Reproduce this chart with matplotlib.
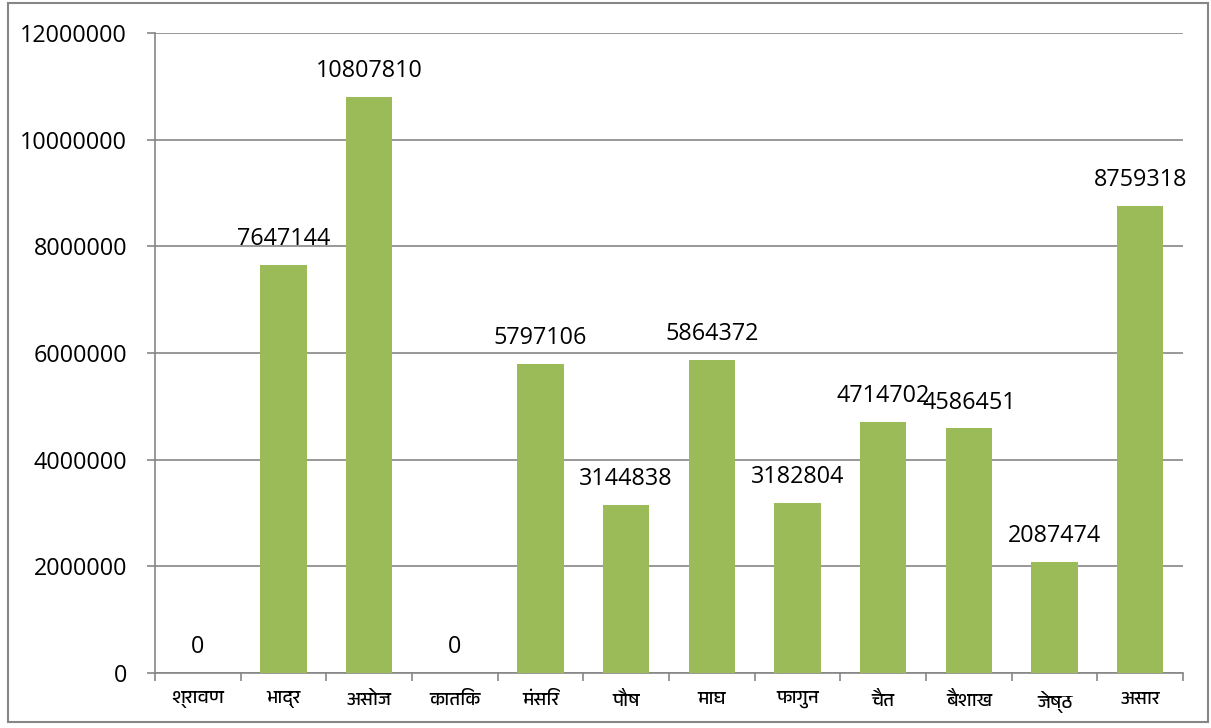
import matplotlib
matplotlib.use('Agg')
from matplotlib import pyplot as plt
from matplotlib import font_manager
from matplotlib.patches import Rectangle

months = ['श्रावण', 'भाद्र', 'असोज', 'कातिक', 'मंसिर', 'पौष',
          'माघ', 'फागुन', 'चैत', 'बैशाख', 'जेष्ठ', 'असार']
values = [0, 7647144, 10807810, 0, 5797106, 3144838,
          5864372, 3182804, 4714702, 4586451, 2087474, 8759318]

# find a font that can draw devanagari
deva_font = None
for f in font_manager.fontManager.ttflist:
    if 'Devanagari' in f.name or 'Mangal' in f.name or 'Lohit' in f.name:
        deva_font = f.name
        break

fig = plt.figure(figsize=(12.11, 7.28), dpi=100)
ax = fig.add_axes([0.128, 0.0755, 0.849, 0.879])
x = list(range(len(values)))
ax.bar(x, values, width=0.54, color='#9BBB59', zorder=3)
ax.set_xlim(-0.5, len(values) - 0.5)
ax.set_ylim(0, 12000000)
ax.set_yticks(range(0, 12000001, 2000000))
ax.set_yticklabels([str(v) for v in range(0, 12000001, 2000000)],
                   fontsize=16.8, family=['Open Sans', 'DejaVu Sans'])
ax.yaxis.grid(True, color='#868686', linewidth=1.2, zorder=0)
ax.set_xticks([i - 0.5 for i in range(len(values) + 1)])
ax.set_xticklabels([])
ax.set_xticks(x, minor=True)
fam = [deva_font, 'DejaVu Sans'] if deva_font else ['DejaVu Sans']
ax.set_xticklabels(months, minor=True, fontsize=13.5, family=fam)
ax.tick_params(axis='x', which='minor', length=0, pad=13)
ax.tick_params(axis='both', which='major', length=6, color='#868686', width=1.2)
ax.tick_params(axis='y', pad=14)
for s in ['top', 'right']:
    ax.spines[s].set_visible(False)
for s in ['left', 'bottom']:
    ax.spines[s].set_color('#868686')
    ax.spines[s].set_linewidth(1.2)

for i, v in enumerate(values):
    ax.annotate(str(v), (i, v), xytext=(0, 10), textcoords='offset points',
                ha='center', va='bottom', fontsize=16.8,
                family=['Open Sans', 'DejaVu Sans'])

fig.patches.append(Rectangle((8 / 1211, 6 / 728), 1200 / 1211, 719 / 728,
                             transform=fig.transFigure, fill=False,
                             edgecolor='#868686', linewidth=1.5))
fig.savefig('out.png', dpi=100)
